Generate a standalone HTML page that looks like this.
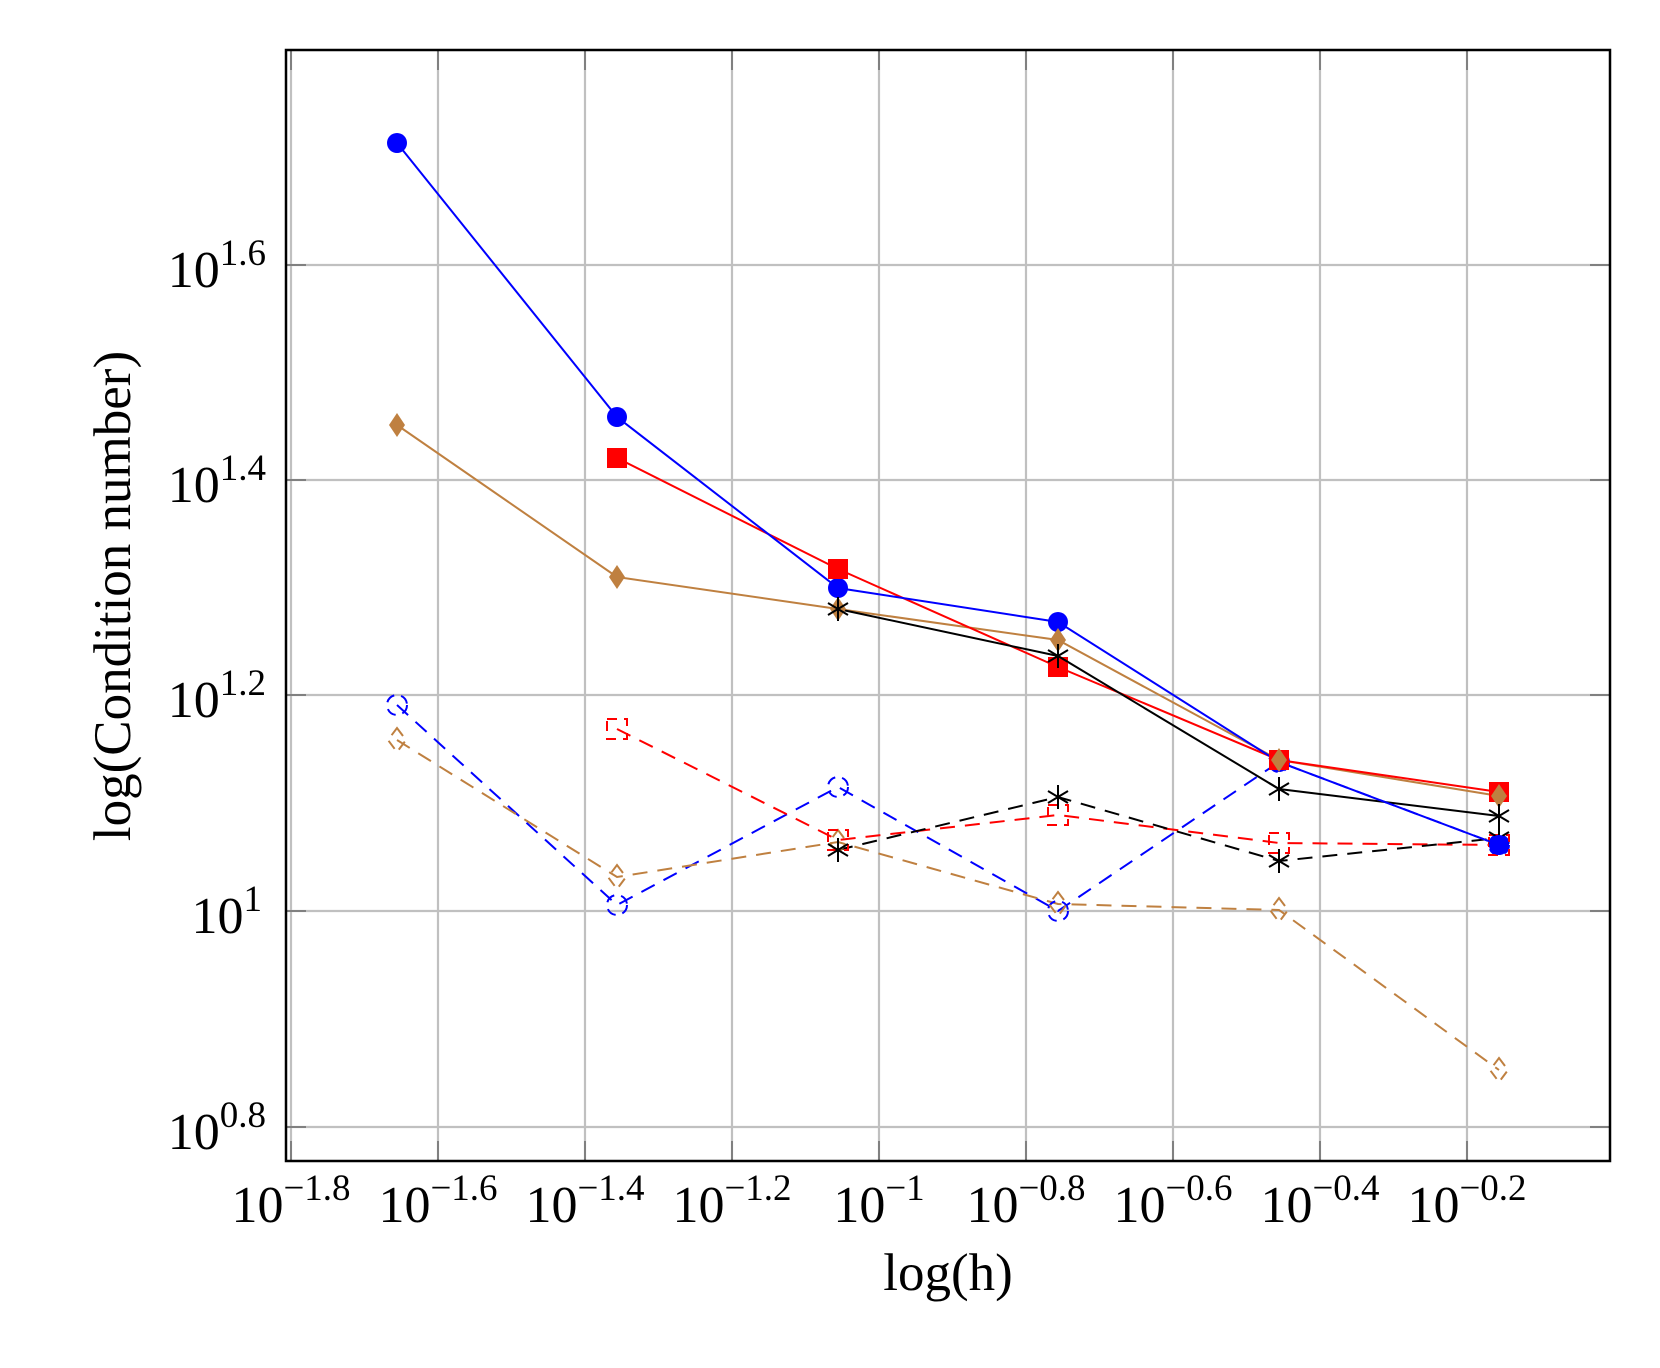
<!DOCTYPE html>
<html><head><meta charset="utf-8"><style>
html,body{margin:0;padding:0;background:#fff;}
svg{display:block;}
text{font-family:"Liberation Serif",serif;fill:#000;}
</style></head><body>
<svg width="1660" height="1368" viewBox="0 0 1660 1368" xmlns="http://www.w3.org/2000/svg">
<rect width="1660" height="1368" fill="#fff"/>
<g stroke="#c0c0c0" stroke-width="2.2">
<line x1="291" y1="50" x2="291" y2="1161"/>
<line x1="438" y1="50" x2="438" y2="1161"/>
<line x1="585" y1="50" x2="585" y2="1161"/>
<line x1="732" y1="50" x2="732" y2="1161"/>
<line x1="879" y1="50" x2="879" y2="1161"/>
<line x1="1026" y1="50" x2="1026" y2="1161"/>
<line x1="1173" y1="50" x2="1173" y2="1161"/>
<line x1="1320" y1="50" x2="1320" y2="1161"/>
<line x1="1467" y1="50" x2="1467" y2="1161"/>
<line x1="286" y1="265" x2="1610" y2="265"/>
<line x1="286" y1="480" x2="1610" y2="480"/>
<line x1="286" y1="695" x2="1610" y2="695"/>
<line x1="286" y1="911" x2="1610" y2="911"/>
<line x1="286" y1="1127" x2="1610" y2="1127"/>
</g>
<g stroke="#808080" stroke-width="2">
<path d="M291 1161v-20M438 1161v-20M585 1161v-20M732 1161v-20M879 1161v-20M1026 1161v-20M1173 1161v-20M1320 1161v-20M1467 1161v-20"/>
<path d="M291 50v20M438 50v20M585 50v20M732 50v20M879 50v20M1026 50v20M1173 50v20M1320 50v20M1467 50v20"/>
<path d="M286 265h20M286 480h20M286 695h20M286 911h20M286 1127h20"/>
<path d="M1610 265h-20M1610 480h-20M1610 695h-20M1610 911h-20M1610 1127h-20"/>
</g>
<rect x="286" y="50" width="1324" height="1111" fill="none" stroke="#000" stroke-width="2.5"/>

<g fill="none" stroke-width="2" stroke-dasharray="15,10">
<polyline stroke="#0000ff" points="397,705 617,905 838,787 1058,911 1279,762 1499,845"/>
<polyline stroke="#bf8040" points="397,740 617,877 838,842 1058,904 1279,910 1499,1070"/>
<polyline stroke="#ff0000" points="617,729 838,840 1058,815 1279,843 1499,845"/>
<polyline stroke="#000" points="838,850 1058,797 1279,861 1499,838"/>
</g>
<g fill="none" stroke-width="2" stroke-dasharray="10,7">
<g stroke="#0000ff"><circle cx="397" cy="705" r="10"/><circle cx="617" cy="905" r="10"/><circle cx="838" cy="787" r="10"/><circle cx="1058" cy="911" r="10"/><circle cx="1279" cy="762" r="10"/><circle cx="1499" cy="845" r="10"/></g>
<g stroke="#bf8040"><path d="M397 728l9 12-9 12-9-12z"/><path d="M617 865l9 12-9 12-9-12z"/><path d="M838 830l9 12-9 12-9-12z"/><path d="M1058 892l9 12-9 12-9-12z"/><path d="M1279 898l9 12-9 12-9-12z"/><path d="M1499 1058l9 12-9 12-9-12z"/></g>
<g stroke="#ff0000"><rect x="607" y="719" width="20" height="20"/><rect x="828" y="830" width="20" height="20"/><rect x="1048" y="805" width="20" height="20"/><rect x="1269" y="833" width="20" height="20"/><rect x="1489" y="835" width="20" height="20"/></g>
</g>
<g stroke="#000" stroke-width="2" fill="none">
<path d="M838 838v24M828 844l20 12M828 856l20-12"/>
<path d="M1058 785v24M1048 791l20 12M1048 803l20-12"/>
<path d="M1279 849v24M1269 855l20 12M1269 867l20-12"/>
<path d="M1499 826v24M1489 832l20 12M1489 844l20-12"/>
</g>

<g fill="none" stroke-width="2">
<polyline stroke="#bf8040" points="397,425 617,577 838,609 1058,640 1279,760 1499,796"/>
<polyline stroke="#ff0000" points="617,458 838,569 1058,667 1279,760 1499,792"/>
<polyline stroke="#000" points="838,609 1058,656 1279,789 1499,816"/>
<polyline stroke="#0000ff" points="397,143 617,417 838,588 1058,622 1279,762 1499,845"/>
</g>
<g fill="#0000ff"><circle cx="397" cy="143" r="10"/><circle cx="617" cy="417" r="10"/><circle cx="838" cy="588" r="10"/><circle cx="1058" cy="622" r="10"/><circle cx="1279" cy="762" r="10"/><circle cx="1499" cy="845" r="10"/></g>
<g fill="#ff0000"><rect x="607" y="448" width="20" height="20"/><rect x="828" y="559" width="20" height="20"/><rect x="1048" y="657" width="20" height="20"/><rect x="1269" y="750" width="20" height="20"/><rect x="1489" y="782" width="20" height="20"/></g>
<g fill="#bf8040"><path d="M397 413l8 12-8 12-8-12z"/><path d="M617 565l8 12-8 12-8-12z"/><path d="M838 597l8 12-8 12-8-12z"/><path d="M1058 628l8 12-8 12-8-12z"/><path d="M1279 748l8 12-8 12-8-12z"/><path d="M1499 784l8 12-8 12-8-12z"/></g>
<g stroke="#000" stroke-width="2" fill="none">
<path d="M838 597v24M828 603l20 12M828 615l20-12"/>
<path d="M1058 644v24M1048 650l20 12M1048 662l20-12"/>
<path d="M1279 777v24M1269 783l20 12M1269 795l20-12"/>
<path d="M1499 804v24M1489 810l20 12M1489 822l20-12"/>
</g>

<g font-size="52" text-anchor="end">
<text x="266" y="287">10<tspan font-size="37" dy="-22">1.6</tspan></text>
<text x="266" y="502">10<tspan font-size="37" dy="-22">1.4</tspan></text>
<text x="266" y="717">10<tspan font-size="37" dy="-22">1.2</tspan></text>
<text x="262" y="933">10<tspan font-size="37" dy="-22">1</tspan></text>
<text x="266" y="1149">10<tspan font-size="37" dy="-22">0.8</tspan></text>
</g>
<g font-size="52" text-anchor="middle">
<text x="291" y="1222">10<tspan font-size="37" dy="-22">−1.8</tspan></text>
<text x="438" y="1222">10<tspan font-size="37" dy="-22">−1.6</tspan></text>
<text x="585" y="1222">10<tspan font-size="37" dy="-22">−1.4</tspan></text>
<text x="732" y="1222">10<tspan font-size="37" dy="-22">−1.2</tspan></text>
<text x="879" y="1222">10<tspan font-size="37" dy="-22">−1</tspan></text>
<text x="1026" y="1222">10<tspan font-size="37" dy="-22">−0.8</tspan></text>
<text x="1173" y="1222">10<tspan font-size="37" dy="-22">−0.6</tspan></text>
<text x="1320" y="1222">10<tspan font-size="37" dy="-22">−0.4</tspan></text>
<text x="1467" y="1222">10<tspan font-size="37" dy="-22">−0.2</tspan></text>
</g>
<text x="948" y="1290" font-size="53" text-anchor="middle">log(h)</text>
<text transform="translate(130,596) rotate(-90)" font-size="53" text-anchor="middle">log(Condition number)</text>
</svg>
</body></html>
